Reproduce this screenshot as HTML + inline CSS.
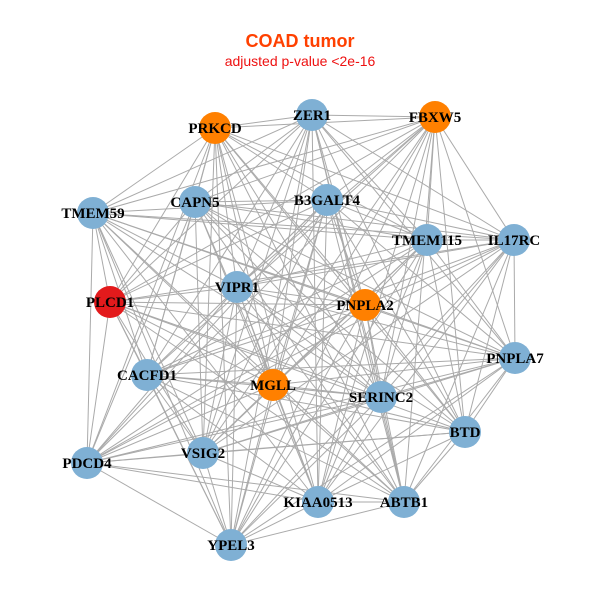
<!DOCTYPE html>
<html><head><meta charset="utf-8"><style>
html,body{margin:0;padding:0;background:#fff;width:600px;height:600px;overflow:hidden}
</style></head><body>
<svg id="g" width="600" height="600" xmlns="http://www.w3.org/2000/svg">
<rect width="600" height="600" fill="#fff"/>
<text x="300" y="47" text-anchor="middle" font-family="Liberation Sans, sans-serif" font-weight="bold" font-size="18" fill="#ff4000">COAD tumor</text>
<text x="300" y="66" text-anchor="middle" font-family="Liberation Sans, sans-serif" font-size="14" fill="#ee1111">adjusted p-value &lt;2e-16</text>
<g id="edges" stroke="#aaaaaa" stroke-width="1"></g>
<g id="nodes" font-family="Liberation Serif, serif" font-weight="bold" font-size="15" text-anchor="middle">
</g>
</svg>
<script>
var N=[["PRKCD",215,128,"#ff8000"],["ZER1",312,115,"#7fb0d4"],["FBXW5",435,117,"#ff8000"],["TMEM59",93,213,"#7fb0d4"],["CAPN5",195,202,"#7fb0d4"],["B3GALT4",327,200,"#7fb0d4"],["TMEM115",427,240,"#7fb0d4"],["IL17RC",514,240,"#7fb0d4"],["PLCD1",110,302,"#e31a1c"],["VIPR1",237,287,"#7fb0d4"],["PNPLA2",365,305,"#ff8000"],["PNPLA7",515,358,"#7fb0d4"],["CACFD1",147,375,"#7fb0d4"],["MGLL",273,385,"#ff8000"],["SERINC2",381,397,"#7fb0d4"],["BTD",465,432,"#7fb0d4"],["PDCD4",87,463,"#7fb0d4"],["VSIG2",203,453,"#7fb0d4"],["KIAA0513",318,502,"#7fb0d4"],["ABTB1",404,502,"#7fb0d4"],["YPEL3",231,545,"#7fb0d4"]];
var ns="http://www.w3.org/2000/svg",E=document.getElementById("edges"),G=document.getElementById("nodes");
for(var i=0;i<N.length;i++)for(var j=i+1;j<N.length;j++){
 if((i*7+j*3)%11==0)continue;
 var l=document.createElementNS(ns,"line");
 l.setAttribute("x1",N[i][1]);l.setAttribute("y1",N[i][2]);l.setAttribute("x2",N[j][1]);l.setAttribute("y2",N[j][2]);E.appendChild(l);}
N.forEach(function(n){var c=document.createElementNS(ns,"circle");c.setAttribute("cx",n[1]);c.setAttribute("cy",n[2]);c.setAttribute("r",16);c.setAttribute("fill",n[3]);G.appendChild(c);});
N.forEach(function(n){var t=document.createElementNS(ns,"text");t.setAttribute("x",n[1]);t.setAttribute("y",n[2]+5);t.textContent=n[0];G.appendChild(t);});
</script>
</body></html>
